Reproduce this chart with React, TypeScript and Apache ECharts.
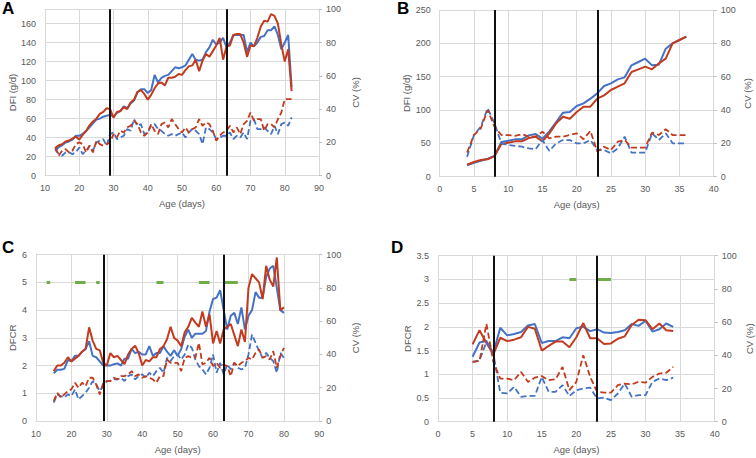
import React, { useEffect, useRef } from "react";
import * as echarts from "echarts";

// ---------- Data ----------
// Panel A: DFI (g/d) and CV (%), days 13..82
const A_start = 13;
const A_dfiBlue = [26, 30, 32, 35, 36, 38, 42, 42, 44, 47, 51, 55, 59, 60, 62, 63, 64, 62, 66, 68, 73, 71, 76, 79, 88, 91, 91, 87, 90, 106, 98, 103, 105, 106, 110, 114, 113, 114, 116, 122, 128, 122, 121, 122, 130, 135, 143, 138, 140, 145, 135, 140, 148, 148, 148, 148, 130, 140, 136, 140, 146, 147, 153, 153, 157, 148, 133, 140, 148, 93];
const A_dfiRed = [29, 32, 33, 36, 37, 39, 41, 38, 43, 47, 53, 57, 60, 65, 67, 71, 70, 61, 67, 68, 72, 70, 77, 80, 88, 90, 86, 80, 85, 92, 97, 98, 95, 103, 103, 104, 107, 106, 111, 115, 116, 122, 110, 121, 128, 125, 131, 137, 145, 122, 136, 137, 148, 149, 149, 140, 125, 137, 136, 145, 157, 163, 162, 170, 168, 160, 138, 120, 133, 89];
const A_cvBlue = [16, 13, 12, 14, 14, 13, 14, 17, 13, 15, 18, 15, 20, 21, 22, 18, 25, 26, 22, 23, 24, 28, 27, 34, 30, 31, 25, 26, 30, 31, 28, 27, 25, 24, 25, 24, 25, 26, 23, 26, 28, 27, 25, 19, 29, 28, 26, 22, 23, 24, 24, 26, 22, 24, 23, 26, 22, 33, 34, 28, 28, 29, 27, 25, 30, 25, 31, 32, 30, 35];
const A_cvRed = [17, 12, 15, 16, 14, 15, 19, 20, 19, 14, 18, 14, 21, 19, 18, 19, 20, 25, 23, 27, 26, 29, 30, 33, 31, 26, 24, 26, 31, 27, 25, 31, 32, 29, 34, 31, 28, 26, 29, 26, 28, 29, 34, 30, 32, 31, 27, 21, 24, 26, 27, 30, 26, 29, 25, 31, 33, 38, 33, 34, 34, 27, 31, 31, 29, 34, 38, 46, 46, 46];
const A_periods = [29, 63];

// Panel B: DFI (g/d) and CV (%), days 4..36
const B_start = 4;
const B_dfiBlue = [17, 21, 24, 27, 31, 52, 54, 56, 56, 62, 64, 57, 68, 82, 96, 97, 106, 110, 117, 125, 136, 140, 146, 149, 167, 172, 177, 167, 168, 192, 200, 205, 210];
const B_dfiRed = [18, 22, 25, 26, 31, 49, 51, 53, 53, 58, 60, 53, 65, 80, 90, 87, 97, 105, 105, 117, 122, 130, 135, 140, 157, 161, 165, 161, 170, 177, 200, 205, 210];
const B_cvBlue = [12, 25, 30, 41, 32, 20, 19, 18.5, 18, 17, 16.5, 22, 15.5, 20, 22, 22, 20, 20, 22, 16, 16, 14, 17, 24, 14.5, 14.5, 14.5, 26, 22, 26, 20, 20, 20];
const B_cvRed = [14.5, 25, 29, 40, 30, 25, 25, 24.5, 25.5, 24, 24, 27, 23, 24, 24, 25, 26, 22.5, 27.5, 15, 18, 16, 21, 22, 17.5, 17.5, 17.5, 26.5, 25, 28.5, 25, 25, 25];
const B_periods = [8, 23];

// Panel C: DFCR and CV (%), days 15..80
const C_start = 15;
const C_dfcrBlue = [1.72, 1.85, 1.85, 1.88, 2.2, 2.15, 2.35, 2.35, 2.5, 2.6, 2.88, 2.35, 2.3, 2.15, 2.0, 2.0, 2.0, 2.05, 2.08, 2.0, 2.25, 2.25, 2.6, 2.45, 2.5, 2.4, 2.4, 2.7, 2.35, 2.45, 2.45, 2.7, 2.5, 2.35, 2.55, 2.35, 2.6, 3.05, 3.3, 3.0, 3.15, 3.15, 3.15, 3.25, 3.95, 4.4, 4.45, 4.72, 4.0, 3.3, 3.8, 3.9, 3.5, 4.1, 3.3, 3.8, 4.0, 4.65, 4.45, 4.45, 5.2, 5.5, 5.6, 4.8, 4.0, 3.9];
const C_dfcrRed = [1.8, 2.0, 2.0, 2.1, 2.3, 2.15, 2.25, 2.35, 2.5, 2.6, 3.38, 2.9, 2.6, 2.55, 2.1, 2.0, 2.45, 2.3, 2.35, 2.2, 2.05, 2.4, 2.6, 2.72, 2.45, 2.0, 2.2, 2.15, 2.3, 2.3, 2.6, 2.7, 2.95, 3.4, 3.0, 2.9, 2.7, 3.2, 3.4, 3.72, 3.55, 3.4, 3.95, 3.4, 3.85, 2.8, 3.25, 2.8, 3.3, 3.4, 3.5, 3.1, 2.7, 3.3, 2.85, 4.8, 5.3, 5.15, 5.0, 4.4, 5.6, 5.1, 4.85, 5.9, 4.0, 4.1];
const C_cvBlue = [11, 16, 15, 14, 16, 15, 19, 13, 15, 17, 20, 24, 22, 18, 21, 24, 24, 25, 25, 26, 24, 27, 28, 25, 27, 28, 26, 29, 27, 30, 32, 29, 38, 36, 39, 40, 37, 40, 46, 44, 37, 33, 31, 28, 32, 40, 29, 35, 28, 34, 31, 35, 32, 31, 32, 40, 52, 47, 42, 38, 41, 38, 36, 29, 41, 38];
const C_cvRed = [12, 17, 14, 16, 18, 19, 23, 20, 23, 21, 26, 26, 22, 16, 23, 24, 24, 26, 25, 27, 27, 28, 30, 27, 28, 26, 27, 26, 25, 23, 27, 27, 37, 35, 35, 35, 30, 38, 39, 38, 38, 47, 34, 35, 38, 33, 35, 32, 34, 33, 27, 35, 33, 35, 36, 38, 37, 41, 43, 38, 39, 37, 42, 32, 39, 44];
const C_periods = [29, 63];
const C_signifLevel = 5;
const C_signifDays = [[13, 14], [21, 24], [27, 28], [44, 46], [56, 59], [63, 67]];

// Panel D: DFCR and CV (%), days 5..34
const D_start = 5;
const D_dfcrBlue = [1.37, 1.67, 1.7, 1.45, 1.98, 1.82, 1.85, 1.89, 2.03, 2.06, 1.66, 1.7, 1.7, 1.78, 1.76, 1.97, 2.0, 1.91, 1.95, 1.88, 1.87, 1.89, 1.93, 2.06, 2.02, 2.13, 1.9, 1.95, 2.07, 2.0];
const D_dfcrRed = [1.63, 1.93, 1.66, 1.42, 1.77, 1.7, 1.73, 1.78, 2.0, 1.96, 1.5, 1.6, 1.69, 1.69, 1.57, 1.78, 2.08, 1.76, 1.76, 1.64, 1.65, 1.75, 1.8, 2.04, 2.15, 2.14, 1.95, 2.07, 1.93, 1.91];
const D_cvBlue = [36, 37, 48, 41, 17.5, 17, 21, 15, 15.5, 15.5, 27, 18, 18, 22, 15.5, 19, 20, 20.5, 14, 14.5, 13, 17, 23, 15, 16, 16, 24, 26, 25, 26.5];
const D_cvRed = [36, 36.5, 59, 36, 26, 26, 25, 30, 24, 26.5, 27.5, 25, 25.5, 33, 19, 24, 40, 27, 18, 17.5, 17.5, 22, 23, 22.5, 24, 23.5, 27, 29, 29.5, 33];
const D_periods = [8, 23];
const D_signifLevel = 3;
const D_signifDays = [[19, 20], [23, 25]];

// ---------- Styles ----------
const BLUE = "#4472C4";
const RED = "#C23B1F";
const GREEN = "#70AD47";
const GRAY = "#595959";
const GRID = "#D9D9D9";
const FONT = '"Liberation Sans", Arial, sans-serif';

const toPairs = (start: number, arr: number[]) => arr.map((v, i) => [start + i, v]);
const segPairs = (segs: number[][], level: number) => {
  const out: any[] = [];
  segs.forEach(([a, b]) => {
    for (let d = a; d <= b; d++) out.push([d, level]);
    out.push([b + 0.5, null]);
  });
  return out;
};

type Panel = {
  letter: string;
  letterPos: [number, number];
  grid: { left: number; top: number; width: number; height: number };
  x: [number, number, number];
  yl: [number, number, number];
  hideMax: boolean;
  ylName: string;
  ylGap: number;
  yrGap: number;
  start: number;
  blue: number[];
  red: number[];
  cvBlue: number[];
  cvRed: number[];
  periods: number[];
  signif?: { days: number[][]; level: number };
};

const panels: Panel[] = [
  {
    letter: "A", letterPos: [2, 0],
    grid: { left: 45, top: 9.3, width: 274, height: 166.4 },
    x: [10, 90, 10], yl: [0, 175, 20], hideMax: true, ylName: "DFI (g/d)", ylGap: 28, yrGap: 31,
    start: A_start, blue: A_dfiBlue, red: A_dfiRed, cvBlue: A_cvBlue, cvRed: A_cvRed, periods: A_periods,
  },
  {
    letter: "B", letterPos: [397, 0],
    grid: { left: 439.7, top: 10, width: 274, height: 166.7 },
    x: [0, 40, 5], yl: [0, 250, 50], hideMax: false, ylName: "DFI (g/d)", ylGap: 28, yrGap: 29,
    start: B_start, blue: B_dfiBlue, red: B_dfiRed, cvBlue: B_cvBlue, cvRed: B_cvRed, periods: B_periods,
  },
  {
    letter: "C", letterPos: [2, 239],
    grid: { left: 36, top: 254.7, width: 283.3, height: 166.3 },
    x: [10, 90, 10], yl: [0, 6, 1], hideMax: false, ylName: "DFCR", ylGap: 19, yrGap: 31,
    start: C_start, blue: C_dfcrBlue, red: C_dfcrRed, cvBlue: C_cvBlue, cvRed: C_cvRed, periods: C_periods,
    signif: { days: C_signifDays, level: C_signifLevel },
  },
  {
    letter: "D", letterPos: [391, 239],
    grid: { left: 438, top: 255.7, width: 276.7, height: 166 },
    x: [0, 40, 5], yl: [0, 3.5, 0.5], hideMax: false, ylName: "DFCR", ylGap: 26, yrGap: 30,
    start: D_start, blue: D_dfcrBlue, red: D_dfcrRed, cvBlue: D_cvBlue, cvRed: D_cvRed, periods: D_periods,
    signif: { days: D_signifDays, level: D_signifLevel },
  },
];

function buildOption() {
  const grid: any[] = [];
  const xAxis: any[] = [];
  const yAxis: any[] = [];
  const series: any[] = [];
  const graphic: any[] = [];
  const txt = { color: GRAY, fontSize: 9, fontFamily: FONT };

  panels.forEach((p, i) => {
    grid.push({ ...p.grid, outerBoundsMode: "none", containLabel: false });
    xAxis.push({
      type: "value", gridIndex: i, min: p.x[0], max: p.x[1], interval: p.x[2],
      name: "Age (days)", nameLocation: "middle", nameGap: 23,
      nameTextStyle: { ...txt, fontSize: 9.5 },
      axisLine: { show: true, lineStyle: { color: GRID, width: 1 } },
      axisTick: { show: false },
      axisLabel: { ...txt, margin: 8 },
      splitLine: { show: true, lineStyle: { color: GRID, width: 1 } },
    });
    yAxis.push({
      type: "value", gridIndex: i, position: "left", min: p.yl[0], max: p.yl[1], interval: p.yl[2],
      name: p.ylName, nameLocation: "middle", nameGap: p.ylGap,
      nameTextStyle: { ...txt, fontSize: 9.5 },
      axisLine: { show: false }, axisTick: { show: false },
      axisLabel: { ...txt, margin: 9, showMaxLabel: !p.hideMax },
      splitLine: { show: true, lineStyle: { color: GRID, width: 1 } },
    });
    yAxis.push({
      type: "value", gridIndex: i, position: "right", min: 0, max: 100, interval: 20,
      name: "CV (%)", nameLocation: "middle", nameGap: p.yrGap,
      nameTextStyle: { ...txt, fontSize: 9.5 },
      axisLine: { show: true, lineStyle: { color: GRID, width: 1 } },
      axisTick: { show: true, length: 3, lineStyle: { color: "#BFBFBF" } },
      axisLabel: { ...txt, margin: 7 },
      splitLine: { show: false },
    });
    const base = { type: "line", xAxisIndex: i, symbol: "none", showSymbol: false, animation: false, silent: true };
    series.push({ ...base, yAxisIndex: 2 * i, data: toPairs(p.start, p.blue), lineStyle: { color: BLUE, width: 2 }, itemStyle: { color: BLUE } });
    series.push({ ...base, yAxisIndex: 2 * i, data: toPairs(p.start, p.red), lineStyle: { color: RED, width: 2 }, itemStyle: { color: RED } });
    series.push({ ...base, yAxisIndex: 2 * i + 1, data: toPairs(p.start, p.cvBlue), lineStyle: { color: BLUE, width: 1.8, type: [6, 3] }, itemStyle: { color: BLUE } });
    series.push({
      ...base, yAxisIndex: 2 * i + 1, data: toPairs(p.start, p.cvRed),
      lineStyle: { color: RED, width: 1.8, type: [6, 3] }, itemStyle: { color: RED },
      markLine: {
        silent: true, symbol: ["none", "none"], animation: false,
        label: { show: false },
        lineStyle: { color: "#111", width: 2, type: "solid" },
        emphasis: { disabled: true },
        data: p.periods.map((d) => ({ xAxis: d })),
      },
    });
    if (p.signif) {
      series.push({
        ...base, yAxisIndex: 2 * i, connectNulls: false,
        data: segPairs(p.signif.days, p.signif.level),
        lineStyle: { color: GREEN, width: 3, cap: "butt" }, itemStyle: { color: GREEN },
      });
    }
    graphic.push({
      type: "text", left: p.letterPos[0], top: p.letterPos[1],
      style: { text: p.letter, fill: "#000", font: `bold 17px ${FONT}` },
    });
  });

  return { animation: false, backgroundColor: "#fff", grid, xAxis, yAxis, series, graphic };
}

export default function App() {
  const ref = useRef<HTMLDivElement>(null);
  useEffect(() => {
    if (!ref.current) return;
    const chart = echarts.init(ref.current, undefined, { renderer: "svg" });
    chart.setOption(buildOption() as any);
    return () => chart.dispose();
  }, []);
  return (
    <div
      ref={ref}
      style={{ position: "fixed", left: 0, top: 0, width: 756, height: 458, background: "#fff" }}
    />
  );
}
